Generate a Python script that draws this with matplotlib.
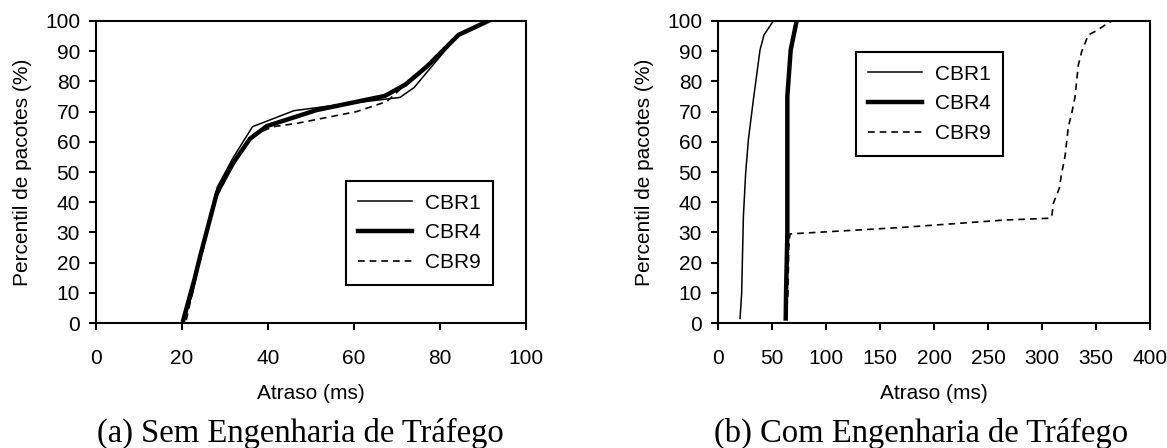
import matplotlib
matplotlib.use("Agg")
import matplotlib.pyplot as plt

plt.rcParams['font.family'] = ['Liberation Sans', 'DejaVu Sans']

# (a) Sem Engenharia de Trafego
a_cbr1_x = [20.5, 22.5, 24, 28.2, 32, 36.4, 46, 55, 70.7, 74, 77.7, 83.9, 91.2]
a_cbr1_y = [1, 10, 20, 45, 55, 65, 70.3, 72, 74.7, 78, 84.3, 94.8, 100]
a_cbr4_x = [20.3, 23, 24.2, 28.1, 31.9, 35.8, 39.7, 51.3, 67.2, 72, 77, 84.3, 91.2]
a_cbr4_y = [1, 15, 22, 43, 53, 61, 65.2, 70.5, 75.2, 79, 85, 95.4, 100]
a_cbr9_x = [21, 23.2, 24.5, 27.7, 30.4, 34.3, 36.1, 41.2, 46.7, 60.6, 67.6, 72, 77, 84.3, 91.2]
a_cbr9_y = [1, 15, 22, 40.7, 48.4, 58.4, 62, 65, 66.1, 70, 73.3, 79, 85, 95.4, 100]

# (b) Com Engenharia de Trafego
b_cbr1_x = [20.4, 21.9, 23.5, 25.6, 28.1, 32.7, 38.9, 42.6, 51.2]
b_cbr1_y = [1.5, 9.8, 35.2, 49.6, 60.6, 73.8, 90.4, 95.4, 100]
b_cbr4_x = [62.7, 63, 64.2, 64.2, 67.3, 72.8]
b_cbr4_y = [1.5, 9.8, 29.7, 75, 90.4, 100]
b_cbr9_x = [63, 64.8, 65.5, 66.7, 168.5, 265.7, 307.4, 309, 310.5, 316, 318.2, 321.3,
            324.4, 327.5, 330.6, 333.6, 336.7, 342.9, 350.6, 361.4, 365]
b_cbr9_y = [1, 10, 25, 29.5, 31.6, 34.1, 34.7, 35.2, 39.6, 44.6, 49.6, 55.1,
            65, 69.4, 74.9, 85.4, 89.8, 95.4, 96.8, 99.4, 100]

series_labels = ['CBR1', 'CBR4', 'CBR9']
yticks = list(range(0, 101, 10))
captions = ['(a) Sem Engenharia de Tráfego', '(b) Com Engenharia de Tráfego']

fig = plt.figure(figsize=(11.67, 4.48), dpi=100)
ax_a = fig.add_axes([96 / 1167, 125 / 448, 430 / 1167, 302 / 448])
ax_b = fig.add_axes([718 / 1167, 125 / 448, 432 / 1167, 302 / 448])

styles = [dict(color='black', lw=1.1, solid_joinstyle='miter'),
          dict(color='black', lw=3.2),
          dict(color='black', lw=1.2, linestyle=(0, (4, 3)))]


def draw(ax, data, xmax, xstep, leg_anchor):
    for (xs, ys), lab, st in zip(data, series_labels, styles):
        ax.plot(xs, ys, label=lab, **st)
    ax.set_xlim(0, xmax)
    ax.set_ylim(0, 100)
    ax.set_xticks(range(0, xmax + 1, xstep))
    ax.set_yticks(yticks)
    for s in ax.spines.values():
        s.set_linewidth(1.5)
    ax.tick_params(axis='both', direction='out', length=5, width=1.5, labelsize=15)
    ax.tick_params(axis='x', pad=13.5)
    ax.tick_params(axis='y', pad=6.5)
    ax.set_xlabel('Atraso (ms)', fontsize=15, labelpad=12)
    ax.set_ylabel('Percentil de pacotes (%)', fontsize=15, labelpad=9)
    leg = ax.legend(loc='upper left', bbox_to_anchor=leg_anchor, borderaxespad=0,
                    fontsize=15, frameon=True, fancybox=False, framealpha=1,
                    edgecolor='black', handlelength=2.6, handletextpad=0.6,
                    labelspacing=0.52, borderpad=0.6)
    leg.get_frame().set_linewidth(1.5)


draw(ax_a, [(a_cbr1_x, a_cbr1_y), (a_cbr4_x, a_cbr4_y), (a_cbr9_x, a_cbr9_y)],
     100, 20, (0.581, 0.470))
draw(ax_b, [(b_cbr1_x, b_cbr1_y), (b_cbr4_x, b_cbr4_y), (b_cbr9_x, b_cbr9_y)],
     400, 50, (0.319, 0.897))

fig.text(300 / 1167, 0.0145, captions[0], family=['Liberation Serif', 'DejaVu Serif'],
         fontsize=23.5, ha='center', va='baseline')
fig.text(921 / 1167, 0.0145, captions[1], family=['Liberation Serif', 'DejaVu Serif'],
         fontsize=23.5, ha='center', va='baseline')

fig.savefig('out.png', dpi=100)
